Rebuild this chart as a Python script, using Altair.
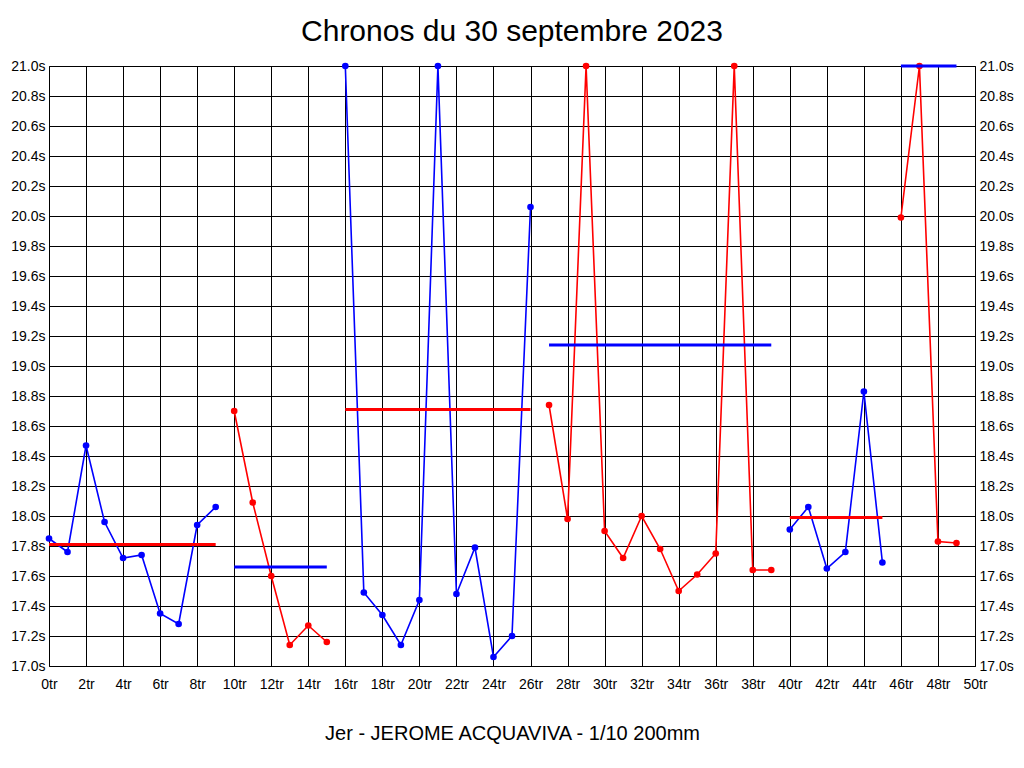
import altair as alt
import pandas as pd

# ---- data ----
laps = list(range(50))
lap_times = [17.85, 17.76, 18.47, 17.96, 17.72, 17.74, 17.35, 17.28, 17.94, 18.06,
             18.70, 18.09, 17.60, 17.14, 17.27, 17.16,
             21.00, 17.49, 17.34, 17.14, 17.44, 21.00, 17.48, 17.79, 17.06, 17.20, 20.06,
             18.74, 17.98, 21.00, 17.90, 17.72, 18.00, 17.78, 17.50, 17.61, 17.75, 21.00, 17.64, 17.64,
             17.91, 18.06, 17.65, 17.76, 18.83, 17.69,
             19.99, 21.00, 17.83, 17.82]

stint_start = [0, 10, 16, 27, 40, 46]
stint_end = [9, 15, 26, 39, 45, 49]
stint_colors = ["#0000FF", "#FF0000", "#0000FF", "#FF0000", "#0000FF", "#FF0000"]
mean_times = [17.81, 17.66, 18.71, 19.14, 17.99, 21.00]
mean_colors = ["#FF0000", "#0000FF", "#FF0000", "#0000FF", "#FF0000", "#0000FF"]

x_ticks = [0, 2, 4, 6, 8, 10, 12, 14, 16, 18, 20, 22, 24, 26, 28, 30, 32, 34, 36, 38, 40,
           42, 44, 46, 48, 50]
y_ticks = [17.0, 17.2, 17.4, 17.6, 17.8, 18.0, 18.2, 18.4, 18.6, 18.8, 19.0, 19.2, 19.4,
           19.6, 19.8, 20.0, 20.2, 20.4, 20.6, 20.8, 21.0]

title_text = "Chronos du 30 septembre 2023"
x_title = "Jer - JEROME ACQUAVIVA - 1/10 200mm"

# ---- tables ----
stint_of_lap = []
color_of_lap = []
for lap in laps:
    for i, (s, e) in enumerate(zip(stint_start, stint_end)):
        if s <= lap <= e:
            stint_of_lap.append(i)
            color_of_lap.append(stint_colors[i])
            break

df = pd.DataFrame({"lap": laps, "time": lap_times, "stint": stint_of_lap, "color": color_of_lap})
means = pd.DataFrame({"lap": stint_start, "end": stint_end, "time": mean_times, "color": mean_colors})

FONT = "Liberation Sans"
xscale = alt.Scale(domain=[0, 50], nice=False, zero=False)
yscale = alt.Scale(domain=[17.0, 21.0], nice=False, zero=False)

x_axis = alt.Axis(values=x_ticks, labelExpr="datum.value + 'tr'", grid=True,
                  title=x_title, titleFontSize=20, titleFont=FONT,
                  titleFontWeight="normal", titleColor="black",
                  titleBaseline="alphabetic", titleY=73,
                  labelPadding=11, labelFlush=False, labelOverlap=False)
y_axis_left = alt.Axis(values=y_ticks, labelExpr="format(datum.value, '.1f') + 's'",
                       grid=True, title=None, labelPadding=4, labelFlush=False,
                       labelOverlap=False)
y_axis_right = alt.Axis(orient="right", values=y_ticks,
                        labelExpr="format(datum.value, '.1f') + 's'", grid=False,
                        title=None, labelPadding=4, labelFlush=False, labelOverlap=False)

X = alt.X("lap:Q", scale=xscale, axis=x_axis)
Y = alt.Y("time:Q", scale=yscale, axis=y_axis_left)
COLOR = alt.Color("color:N", scale=None)

base = alt.Chart(df)
lines = base.mark_line(strokeWidth=1.6).encode(x=X, y=Y, detail="stint:N", color=COLOR)
points = base.mark_circle(size=44, opacity=1).encode(x=X, y=Y, color=COLOR)
rules = alt.Chart(means).mark_rule(strokeWidth=3).encode(x=X, x2="end:Q", y=Y, color=COLOR)

main = alt.layer(lines, points, rules)

right = base.mark_point(opacity=0).encode(
    x=X, y=alt.Y("time:Q", scale=yscale, axis=y_axis_right))

chart = alt.layer(main, right).resolve_scale(y="independent").properties(
    width=926, height=600,
    title=alt.Title(title_text, fontSize=30, font=FONT, fontWeight="normal", color="black",
                    anchor="middle", baseline="alphabetic", offset=16, dy=28),
    autosize=alt.AutoSizeParams(type="none"),
    padding={"left": 41, "top": 58, "right": 41, "bottom": 94},
    background="white",
).configure_axis(
    labelFont=FONT, labelFontSize=14, labelColor="black",
    gridColor="black", gridOpacity=1, gridWidth=1,
    domain=False, ticks=False, tickSize=0,
).configure_view(stroke="black", strokeWidth=1)

chart.save("out.html", embed_options={"renderer": "svg", "actions": False})
